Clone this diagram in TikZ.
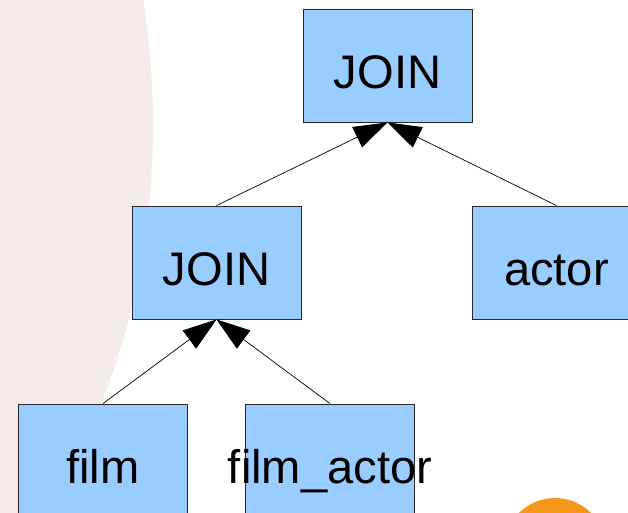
\documentclass[tikz,border=0pt]{standalone}
\usepackage{fontspec}
\setmainfont{Liberation Sans}
\usetikzlibrary{arrows.meta}
\definecolor{boxblue}{RGB}{153,204,255}
\definecolor{bgpink}{RGB}{244,236,232}
\definecolor{bgorange}{RGB}{248,150,28}
\begin{document}
\begin{tikzpicture}
    [
    x=0.025cm,y=-0.025cm,
    op/.style={rectangle,draw={rgb,255:red,40;green,40;blue,40},line width=0.6pt,fill=boxblue,inner sep=0pt,
      minimum width=4.225cm,minimum height=2.825cm,text height=1.375cm,text depth=0.25cm,
      font=\fontsize{33.5}{40}\selectfont},
    flow/.style={line width=0.5pt,-{Triangle[length=24pt,width=16pt]}}
    ]
    \useasboundingbox (0,0) rectangle (628,512);
    \clip (0,0) rectangle (628,512);
    % background
    \fill [bgpink] (-300,125) ellipse [x radius=453, y radius=600];
    \fill [bgorange] (555,549) circle [radius=51];
    % plan
    \node (join1) at (387.5,65.5) [op] {JOIN};
    \node (join2) at (216.5,262.5) [op] {JOIN};
    \node (actor) at (556.5,262.5) [op] {actor};
    \node (film) at (103,460.5) [op] {film};
    \node (filmactor) at (330,460.5) [op] {\makebox[0pt]{film\_actor}};
    \draw [flow] (join2.north) to (join1.south);
    \draw [flow] (actor.north) to (join1.south);
    \draw [flow] (film.north) to (join2.south);
    \draw [flow] (filmactor.north) to (join2.south);
  \end{tikzpicture}
\end{document}
